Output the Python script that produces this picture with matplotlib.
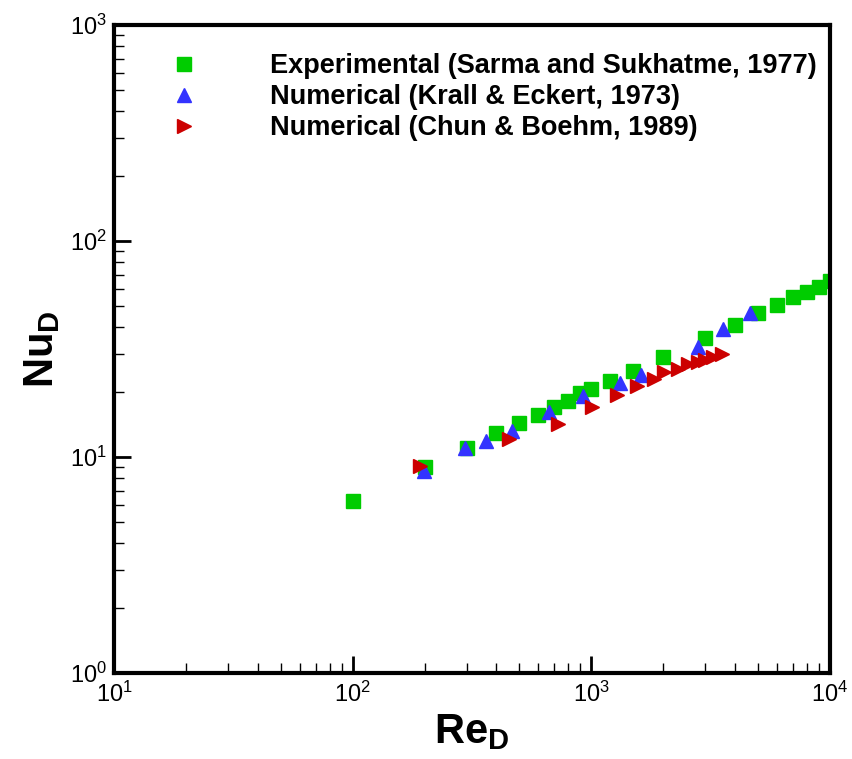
import matplotlib
matplotlib.use("Agg")
import matplotlib.pyplot as plt
from matplotlib.ticker import LogLocator, NullFormatter

# Experimental (Sarma and Sukhatme, 1977)
exp_re = [100, 200, 300, 400, 500, 600, 700, 800, 900, 1000, 1200, 1500, 2000,
          3000, 4000, 5000, 6000, 7000, 8000, 9000, 10000]
exp_nu = [6.3, 9.0, 11.0, 12.9, 14.4, 15.7, 17.0, 18.2, 19.8, 20.6, 22.5, 25.0,
          29.0, 35.6, 40.8, 46.4, 50.6, 55.0, 58.0, 61.0, 65.3]

# Numerical (Krall & Eckert, 1973)
ke_re = [198, 295, 362, 465, 667, 920, 1320, 1610, 2800, 3550, 4620]
ke_nu = [8.6, 11.0, 11.9, 13.2, 16.2, 19.2, 22.0, 24.0, 32.4, 39.0, 46.3]

# Numerical (Chun & Boehm, 1989)
cb_re = [192, 452, 726, 1003, 1277, 1549, 1832, 2018, 2317, 2541, 2790, 3007,
         3253, 3522]
cb_nu = [9.1, 12.2, 14.3, 17.0, 19.5, 21.3, 23.0, 24.8, 25.7, 26.9, 27.6, 28.3,
         29.1, 30.0]

plt.rcParams['font.family'] = ['Liberation Sans', 'DejaVu Sans']
plt.rcParams['mathtext.fontset'] = 'custom'
plt.rcParams['mathtext.rm'] = 'Liberation Sans'
plt.rcParams['mathtext.it'] = 'Liberation Sans'
plt.rcParams['mathtext.bf'] = 'Liberation Sans:bold'

fig = plt.figure(figsize=(8.52, 7.59), dpi=100)
ax = fig.add_axes([0.134, 0.113, 0.840, 0.854])

ax.plot(exp_re, exp_nu, 's', color='#00cc00', markersize=9.5, linestyle='none',
        label='Experimental (Sarma and Sukhatme, 1977)')
ax.plot(ke_re, ke_nu, '^', color='#3333ff', markersize=10, linestyle='none',
        label='Numerical (Krall & Eckert, 1973)')
ax.plot(cb_re, cb_nu, '>', color='#cc0000', markersize=10, linestyle='none',
        label='Numerical (Chun & Boehm, 1989)')

ax.set_xscale('log')
ax.set_yscale('log')
ax.set_xlim(10, 1e4)
ax.set_ylim(1, 1e3)

ax.xaxis.set_major_locator(LogLocator(base=10, numticks=10))
ax.yaxis.set_major_locator(LogLocator(base=10, numticks=10))
ax.xaxis.set_minor_locator(LogLocator(base=10, subs=range(2, 10), numticks=20))
ax.yaxis.set_minor_locator(LogLocator(base=10, subs=range(2, 10), numticks=20))
ax.xaxis.set_minor_formatter(NullFormatter())
ax.yaxis.set_minor_formatter(NullFormatter())

ax.tick_params(which='major', direction='in', length=12, width=2, labelsize=17)
ax.tick_params(axis='x', which='major', pad=6)
ax.tick_params(axis='y', which='major', pad=5)
ax.tick_params(which='minor', direction='in', length=7, width=1)
for s in ax.spines.values():
    s.set_linewidth(3)

ax.set_xlabel(r'$\mathbf{Re_D}$', fontsize=30, labelpad=4)
ax.set_ylabel(r'$\mathbf{Nu_D}$', fontsize=30, labelpad=6)

ax.legend(loc='upper left', bbox_to_anchor=(0.044, 0.994), frameon=False,
          prop={'weight': 'bold', 'size': 19.5}, handlelength=1,
          handletextpad=2.7, labelspacing=0.18, markerscale=1.0)

fig.savefig('out.png', dpi=100)
